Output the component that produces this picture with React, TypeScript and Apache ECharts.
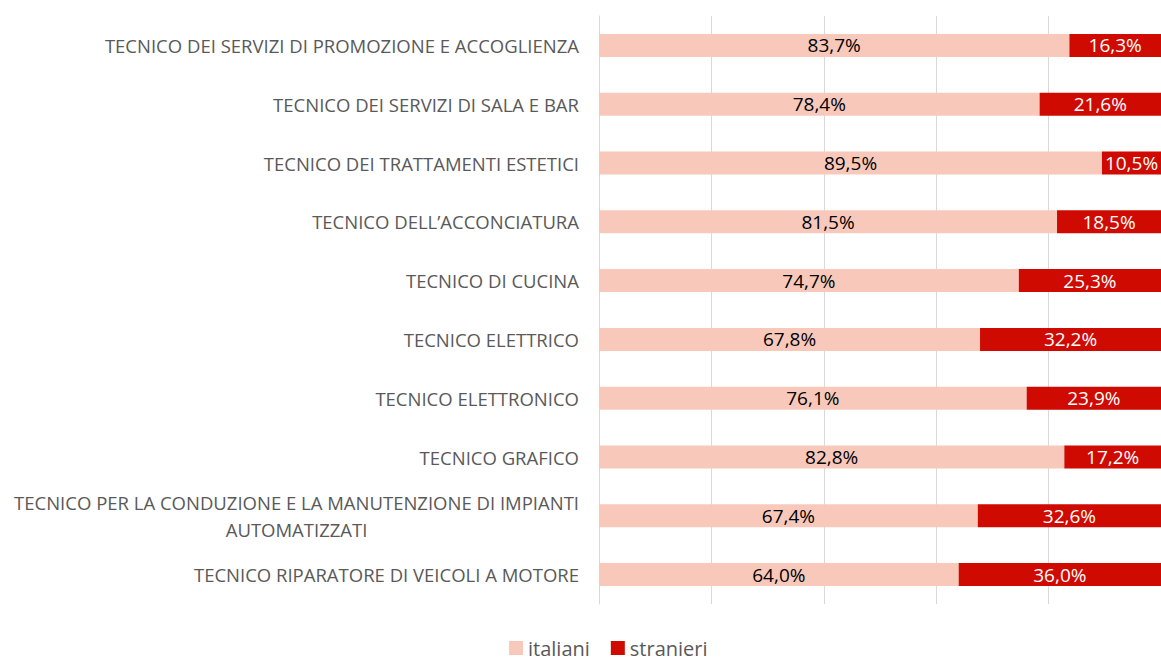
import React, { useEffect, useRef } from "react";
import * as echarts from "echarts";

const categories = [
  "TECNICO DEI SERVIZI DI PROMOZIONE E ACCOGLIENZA",
  "TECNICO DEI SERVIZI DI SALA E BAR",
  "TECNICO DEI TRATTAMENTI ESTETICI",
  "TECNICO DELL\u2019ACCONCIATURA",
  "TECNICO DI CUCINA",
  "TECNICO ELETTRICO",
  "TECNICO ELETTRONICO",
  "TECNICO GRAFICO",
  "TECNICO PER LA CONDUZIONE E LA MANUTENZIONE DI IMPIANTI\nAUTOMATIZZATI",
  "TECNICO RIPARATORE DI VEICOLI A MOTORE",
];
const italiani = [83.7, 78.4, 89.5, 81.5, 74.7, 67.8, 76.1, 82.8, 67.4, 64.0];
const stranieri = [16.3, 21.6, 10.5, 18.5, 25.3, 32.2, 23.9, 17.2, 32.6, 36.0];
const seriesNames = ["italiani", "stranieri"];

const FONT = "'Open Sans', sans-serif";
const fmt = (v: number) => v.toFixed(1).replace(".", ",") + "%";
const CAT_SIZE = 18.5;

export default function App() {
  const ref = useRef<HTMLDivElement>(null);
  useEffect(() => {
    if (!ref.current) return;
    const chart = echarts.init(ref.current, undefined, { renderer: "svg" });
    chart.setOption({
      animation: false,
      textStyle: { fontFamily: FONT },
      grid: { left: 599, right: -3, top: 16, bottom: 58, containLabel: false },
      legend: {
        data: seriesNames,
        left: 509,
        top: 638,
        padding: 0,
        itemWidth: 14,
        itemHeight: 14,
        itemGap: 21,
        icon: "rect",
        textStyle: { color: "#595959", fontSize: 20, lineHeight: 20, fontFamily: FONT },
      },
      xAxis: {
        type: "value",
        min: 0,
        max: 100,
        interval: 20,
        axisLabel: { show: false },
        axisLine: { show: false },
        axisTick: { show: false },
        splitLine: { lineStyle: { color: "#D9D9D9", width: 1 } },
      },
      yAxis: {
        type: "category",
        data: categories,
        inverse: true,
        axisTick: { show: false },
        axisLine: { show: true, lineStyle: { color: "#D9D9D9", width: 1 } },
        axisLabel: {
          margin: 20,
          color: "#595959",
          fontSize: CAT_SIZE,
          fontFamily: FONT,
          lineHeight: 27,
          formatter: (v: string) => {
            const parts = v.split("\n");
            if (parts.length === 1) return v;
            return parts.map((p, i) => (i === 0 ? "{a|" + p + "}" : "{c|" + p + "}")).join("\n");
          },
          rich: {
            a: { color: "#595959", fontSize: CAT_SIZE, fontFamily: FONT, lineHeight: 27 },
            c: { color: "#595959", fontSize: CAT_SIZE, fontFamily: FONT, lineHeight: 27, align: "center" },
          },
        },
      },
      series: [
        {
          name: seriesNames[0],
          type: "bar",
          stack: "total",
          data: italiani,
          barWidth: 23,
          itemStyle: { color: "#F8C9BA" },
          label: {
            show: true,
            position: "inside",
            color: "#000000",
            fontSize: 19,
            fontFamily: FONT,
            formatter: (p: any) => fmt(p.value),
          },
        },
        {
          name: seriesNames[1],
          type: "bar",
          stack: "total",
          data: stranieri,
          barWidth: 23,
          itemStyle: { color: "#CF0A00" },
          label: {
            show: true,
            position: "inside",
            color: "#FFFFFF",
            fontSize: 19,
            fontFamily: FONT,
            formatter: (p: any) => fmt(p.value),
          },
        },
      ],
    });
    return () => chart.dispose();
  }, []);
  return (
    <div
      ref={ref}
      style={{ position: "fixed", left: 0, top: 0, width: 1161, height: 662, background: "#fff" }}
    />
  );
}
